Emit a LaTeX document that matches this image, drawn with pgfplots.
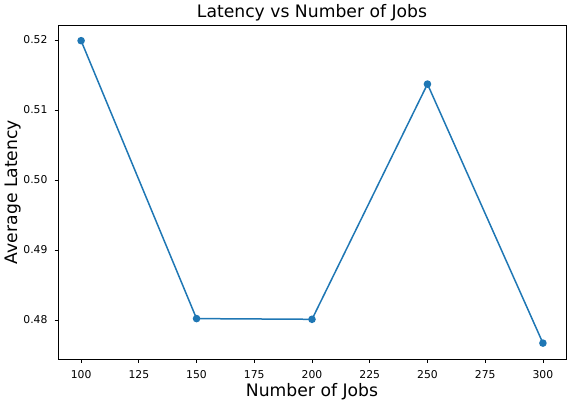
\documentclass[border=0pt]{standalone}
\usepackage{fontspec}
\setmainfont{DejaVu Sans}
\usepackage{pgfplots}
\pgfplotsset{compat=1.18}
\definecolor{mplblue}{HTML}{1F77B4}
\begin{document}
\begin{tikzpicture}[x=1pt,y=1pt]
\useasboundingbox (0,0) rectangle (577,406);
\begin{axis}[
  at={(58pt,47pt)}, anchor=south west,
  scale only axis, width=508pt, height=334pt,
  xmin=90, xmax=310, ymin=0.47443, ymax=0.52214,
  xtick={100,125,150,175,200,225,250,275,300},
  ytick={0.48,0.49,0.50,0.51,0.52},
  yticklabels={0.48,0.49,0.50,0.51,0.52},
  xtick pos=bottom, ytick pos=left,
  tick align=outside, major tick length=3.5pt,
  every tick/.style={black, line width=0.8pt},
  axis line style={black, line width=0.8pt},
  /pgf/number format/assume math mode=true,
  tick label style={font=\fontsize{10.8}{13}\selectfont, color=black},
  xticklabel style={anchor=base, yshift=-15.5pt},
  yticklabel style={anchor=east, xshift=-3.5pt},
  scaled y ticks=false,
  every axis title shift=0pt,
  title={Latency vs Number of Jobs},
  title style={font=\fontsize{17.2}{20}\selectfont, at={(0.5,1.021)}, anchor=base},
  xlabel={Number of Jobs},
  xlabel style={font=\fontsize{17.2}{20}\selectfont, at={(0.5,-0.1108)}, anchor=base},
  ylabel={Average Latency},
  ylabel style={font=\fontsize{17.2}{20}\selectfont, at={(-0.0807,0.5)}, anchor=base},
]
\addplot[color=mplblue, line width=1.5pt, mark=*, mark size=3pt, mark options={fill=mplblue, draw=mplblue}]
coordinates {(100,0.5199) (150,0.4802) (200,0.4801) (250,0.5137) (300,0.4767)};
\end{axis}
\end{tikzpicture}
\end{document}
